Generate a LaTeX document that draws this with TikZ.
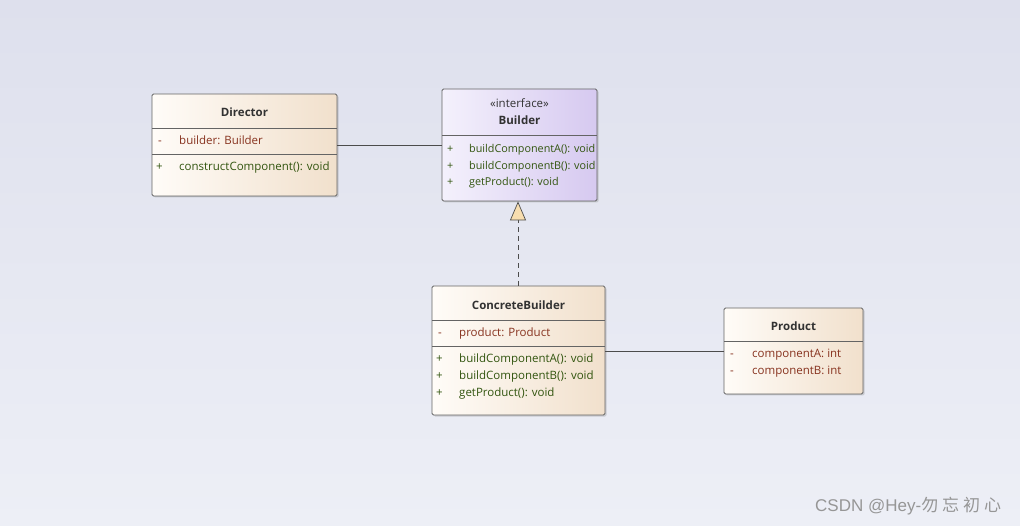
\documentclass[tikz,border=0pt]{standalone}
\usepackage{fontspec}
\setmainfont{Open Sans}
\newfontfamily\cjk{Noto Sans CJK SC}
\newfontfamily\wmfont{Liberation Sans}
\usetikzlibrary{shadows,arrows.meta}
\definecolor{bgtop}{RGB}{222,224,237}
\definecolor{bgbot}{RGB}{237,239,246}
\definecolor{clsL}{RGB}{255,252,248}
\definecolor{clsR}{RGB}{241,224,204}
\definecolor{ifL}{RGB}{244,241,252}
\definecolor{ifR}{RGB}{214,201,240}
\definecolor{bordc}{RGB}{100,100,100}
\definecolor{attrc}{RGB}{135,50,30}
\definecolor{methc}{RGB}{50,85,15}
\definecolor{titlec}{RGB}{50,50,50}
\definecolor{tric}{RGB}{248,222,176}
\definecolor{wmc}{RGB}{150,150,150}
\tikzset{
  classbox/.style={draw=bordc, line width=0.8pt, rounded corners=1.5pt,
    drop shadow={shadow xshift=1.5pt, shadow yshift=-1.5pt, opacity=0.3, fill=black!50},
    inner sep=0pt, left color=clsL, right color=clsR},
  ifbox/.style={classbox, left color=ifL, right color=ifR},
  sep/.style={draw=bordc, line width=0.7pt},
  txt/.style={inner sep=0pt, text height=8pt, text depth=0pt},
  title/.style={txt, font=\fontsize{11.5}{13}\selectfont\bfseries, text=titlec},
  stereo/.style={txt, font=\fontsize{11.5}{13}\selectfont, text=titlec},
  attr/.style={txt, font=\fontsize{11.5}{13}\selectfont, text=attrc, anchor=west},
  meth/.style={txt, font=\fontsize{11.5}{13}\selectfont, text=methc, anchor=west},
  imeth/.style={meth, font=\fontsize{10.8}{13}\selectfont},
  conn/.style={draw=black!70, line width=0.7pt},
}
\begin{document}
\begin{tikzpicture}[x=1pt,y=-1pt]
\useasboundingbox (0,0) rectangle (1020,526);
\fill[top color=bgtop, bottom color=bgbot] (0,0) rectangle (1020,526);

% Director
\node[classbox, minimum width=185pt, minimum height=102pt] (director) at (244.5,145) {};
\node[title] (dirT) at (244.5,113) {Director};
\draw[sep] (152,128.5) -- (337,128.5);
\draw[sep] (152,154) -- (337,154);
\node[attr] (dirA1s) at (158,141) {-};
\node[attr] (dirA1) at (179,141) {builder: Builder};
\node[meth] (dirM1s) at (156,167) {+};
\node[meth] (dirM1) at (179,167) {constructComponent(): void};

% Builder
\node[ifbox, minimum width=155pt, minimum height=112pt] (builder) at (519.5,145) {};
\node[stereo] (bS) at (519.5,104) {«interface»};
\node[title] (bT) at (519.5,121) {Builder};
\draw[sep] (442,135.5) -- (597,135.5);
\node[imeth] (bM1s) at (447,149) {+};
\node[imeth] (bM1) at (469,149) {buildComponentA(): void};
\node[imeth] (bM2s) at (447,165.5) {+};
\node[imeth] (bM2) at (469,165.5) {buildComponentB(): void};
\node[imeth] (bM3s) at (447,182) {+};
\node[imeth] (bM3) at (469,182) {getProduct(): void};

% ConcreteBuilder
\node[classbox, minimum width=173pt, minimum height=129pt] (concrete) at (518.5,350.5) {};
\node[title] (cT) at (518.5,306) {ConcreteBuilder};
\draw[sep] (432,320.5) -- (605,320.5);
\draw[sep] (432,346) -- (605,346);
\node[attr] (cA1s) at (438,333) {-};
\node[attr] (cA1) at (459,333) {product: Product};
\node[meth] (cM1s) at (436,359) {+};
\node[meth] (cM1) at (459,359) {buildComponentA(): void};
\node[meth] (cM2s) at (436,376) {+};
\node[meth] (cM2) at (459,376) {buildComponentB(): void};
\node[meth] (cM3s) at (436,392) {+};
\node[meth] (cM3) at (459,392) {getProduct(): void};

% Product
\node[classbox, minimum width=139pt, minimum height=86pt] (product) at (793.5,351) {};
\node[title] (pT) at (793.5,327) {Product};
\draw[sep] (724,341) -- (863,341);
\node[attr] (pA1s) at (730,354) {-};
\node[attr] (pA1) at (752,354) {componentA: int};
\node[attr] (pA2s) at (730,371) {-};
\node[attr] (pA2) at (752,371) {componentB: int};

% connectors
\draw[conn] (director) -- (builder);
\draw[conn] (concrete.east |- product.west) -- (product.west);
\draw[conn, dash pattern=on 5pt off 4pt,
  -{Triangle[width=16pt,length=19pt,fill=tric,line width=0.7pt]}]
  (concrete.north -| 518,0) -- (builder.south -| 518,0);

% watermark
\node[anchor=west, inner sep=0pt, text=wmc, font=\fontsize{17}{19}\selectfont] (wm) at (815,506)
  {\wmfont CSDN @Hey-\cjk 勿\hspace{4pt}忘\hspace{4pt}初\hspace{4pt}心};
\end{tikzpicture}
\end{document}
